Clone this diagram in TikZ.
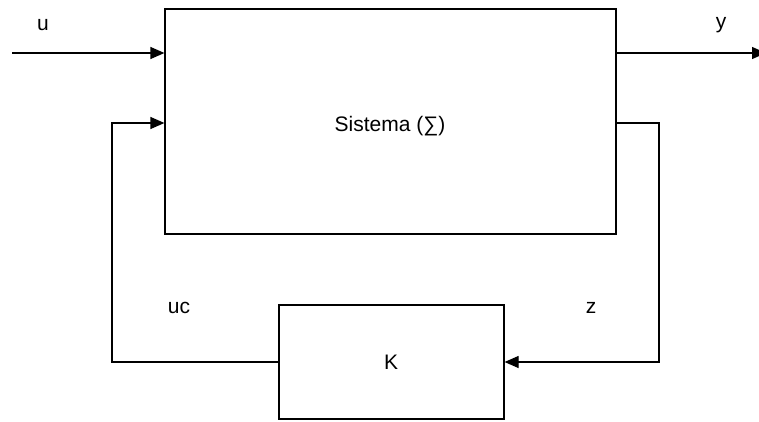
\documentclass[tikz,border=0pt]{standalone}
\usepackage{fontspec}
\setmainfont{Liberation Sans}
\usetikzlibrary{arrows.meta}
\begin{document}
\begin{tikzpicture}[x=1pt,y=1pt,
  blk/.style={draw, line width=1.2pt, minimum width=#1, inner sep=0pt},
  lbl/.style={font=\fontsize{21}{24}\selectfont, inner sep=0pt},
  wire/.style={line width=1.2pt},
  arr/.style={wire, -{Triangle[length=14pt,width=12pt]}}]
\useasboundingbox (0,0) rectangle (759,-422);
\fill[white] (0,0) rectangle (759,-422);
\node[blk=451pt, minimum height=225pt] (sys) at (390.5,-121.5) {};
\node[lbl] (syslbl) at (390,-126) {Sistema (∑)};
\node[blk=225pt, minimum height=114pt] (K) at (391.5,-362) {};
\node[lbl] (klbl) at (391,-362) {K};
\node[lbl] (ulbl) at (43,-25) {u};
\node[lbl] (ylbl) at (721,-25) {y};
\node[lbl] (uclbl) at (179,-308) {uc};
\node[lbl] (zlbl) at (591,-308) {z};
\coordinate (uin) at (12,-53);
\coordinate (yout) at (766,-53);
\coordinate (fr1) at (659,-123);
\coordinate (fr2) at (659,-362);
\coordinate (fl1) at (112,-362);
\coordinate (fl2) at (112,-123);
\draw[arr] (uin) -- (uin -| sys.west);
\draw[arr] (sys.east |- yout) -- (yout);
\draw[arr] (sys.east |- fr1) -- (fr1) -- (fr2) -- (K.east);
\draw[arr] (K.west) -- (fl1) -- (fl2) -- (fl2 -| sys.west);
\end{tikzpicture}
\end{document}
